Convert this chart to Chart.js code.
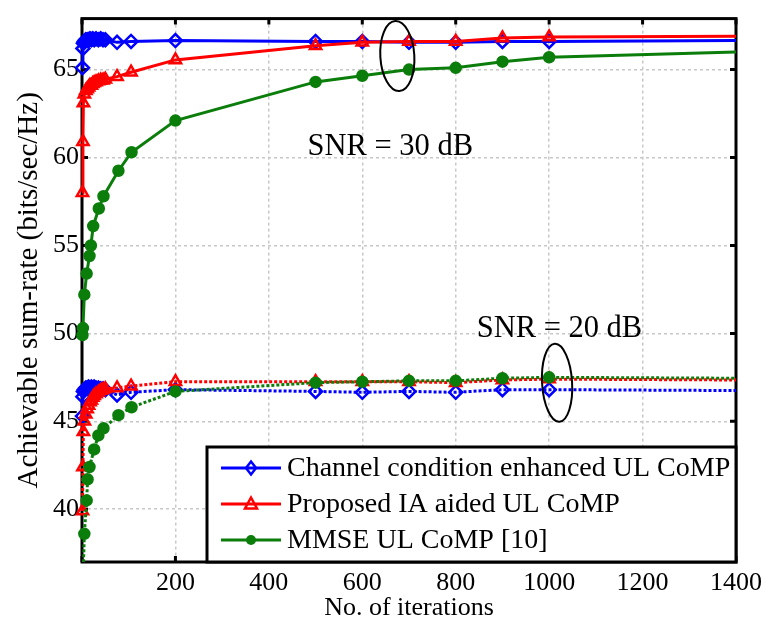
<!DOCTYPE html>
<html>
<head>
<meta charset="utf-8">
<script src="https://cdn.jsdelivr.net/npm/chart.js@4.4.0/dist/chart.umd.min.js"></script>
<style>
  html, body { margin: 0; padding: 0; background: #fff; }
  #wrap { width: 768px; height: 630px; position: relative; }
</style>
</head>
<body>
<div id="wrap"><canvas id="rateChart"></canvas></div>
<script>
// sample points (iteration index) of the curves
const itersDense = [1, 2, 3, 5, 8, 11, 14, 17, 20, 23, 26, 30, 35, 40, 45, 50, 75, 105, 200, 500, 600, 700, 800, 900, 1000, 1400];
const itersMmse30 = [1, 2, 5, 10, 16, 19, 24, 36, 46, 78, 106, 200, 500, 600, 700, 800, 900, 1000, 1400];
const itersMmse20 = [1, 5, 10, 12, 16, 26, 35, 46, 78, 106, 200, 500, 600, 700, 800, 900, 1000, 1400];

// SNR = 30 dB
const enhanced30 = [65.1, 66.2, 66.5, 66.6, 66.7, 66.7, 66.7, 66.75, 66.7, 66.75, 66.7, 66.75, 66.7, 66.75, 66.7, 66.7, 66.55, 66.6, 66.65, 66.6, 66.6, 66.55, 66.55, 66.6, 66.6, 66.65];
const proposed30 = [58.0, 60.9, 63.1, 63.6, 63.8, 63.9, 64.0, 64.1, 64.1, 64.2, 64.25, 64.3, 64.35, 64.4, 64.4, 64.45, 64.6, 64.85, 65.55, 66.35, 66.55, 66.6, 66.6, 66.8, 66.85, 66.9];
const mmse30 = [49.9, 50.3, 52.2, 53.4, 54.4, 55.0, 56.1, 57.1, 57.8, 59.25, 60.3, 62.1, 64.3, 64.65, 65.0, 65.1, 65.45, 65.7, 66.0];

// SNR = 20 dB
const enhanced20 = [45.3, 46.4, 46.7, 46.8, 46.9, 46.9, 46.95, 46.9, 46.95, 46.9, 46.95, 46.9, 46.9, 46.85, 46.85, 46.8, 46.5, 46.65, 46.8, 46.7, 46.65, 46.7, 46.65, 46.8, 46.8, 46.75];
const proposed20 = [39.9, 42.4, 44.4, 45.0, 45.4, 45.7, 45.9, 46.1, 46.2, 46.35, 46.45, 46.55, 46.65, 46.75, 46.8, 46.85, 46.9, 47.0, 47.25, 47.25, 47.25, 47.25, 47.2, 47.35, 47.4, 47.35];
const mmse20 = [35.0, 38.6, 40.5, 41.7, 42.4, 43.4, 44.2, 44.6, 45.35, 45.8, 46.7, 47.2, 47.25, 47.3, 47.3, 47.45, 47.5, 47.45];

const legendLabels = ['Channel condition enhanced UL CoMP', 'Proposed IA aided UL CoMP', 'MMSE UL CoMP [10]'];
const xTicks = [0, 200, 400, 600, 800, 1000, 1200, 1400];
const yTicks = [40, 45, 50, 55, 60, 65];

// text notes and ellipses, in data units
const notes = [
    { text: 'SNR = 30 dB', x: 660, y: 60.62 },
    { text: 'SNR = 20 dB', x: 1022, y: 50.27 }
];
const rings = [
    { x: 675, y: 65.77, rx: 17, ry: 35 },
    { x: 1017, y: 47.19, rx: 15, ry: 39 }
];

const BLUE = '#0000ff';
const RED = '#ff0000';
const GREEN = '#0b7d0b';
const SERIF = '"Liberation Serif", "Times New Roman", serif';

const toPoints = (xs, ys) => xs.map((x, i) => ({ x: x, y: ys[i] }));
const lastHidden = r => ctx => (ctx.raw && ctx.raw.x >= 1400 ? 0 : r);

function series(label, xs, ys, color, style, dashed, order) {
    const filled = style === 'circle';
    const r = style === 'circle' ? 5 : 6.5;
    return {
        label: label,
        data: toPoints(xs, ys),
        borderColor: color,
        backgroundColor: filled ? color : 'rgba(0,0,0,0)',
        borderWidth: 3,
        borderDash: dashed ? [3, 2] : [],
        pointStyle: style,
        pointRadius: lastHidden(r),
        pointBorderWidth: 2.5,
        pointBorderColor: color,
        pointBackgroundColor: filled ? color : 'rgba(0,0,0,0)',
        tension: 0,
        order: order,
        clip: { left: 10, top: 10, right: 4, bottom: 0 }
    };
}

function drawMarker(ctx, style, color, x, y) {
    ctx.save();
    ctx.strokeStyle = color;
    ctx.fillStyle = color;
    ctx.lineWidth = 2.5;
    ctx.setLineDash([]);
    ctx.beginPath();
    if (style === 'rectRot') {
        ctx.moveTo(x, y - 6.5); ctx.lineTo(x + 5, y); ctx.lineTo(x, y + 6.5); ctx.lineTo(x - 5, y); ctx.closePath();
        ctx.stroke();
    } else if (style === 'triangle') {
        ctx.moveTo(x, y - 6.5); ctx.lineTo(x + 6, y + 4.5); ctx.lineTo(x - 6, y + 4.5); ctx.closePath();
        ctx.stroke();
    } else {
        ctx.arc(x, y, 5, 0, Math.PI * 2);
        ctx.fill();
    }
    ctx.restore();
}

const decorPlugin = {
    id: 'decor',
    beforeDatasetsDraw(chart) {
        const { ctx, chartArea: a, scales } = chart;
        ctx.save();
        // inward tick marks on all four sides
        ctx.strokeStyle = '#000';
        ctx.lineWidth = 3;
        ctx.beginPath();
        xTicks.forEach(v => {
            const px = scales.x.getPixelForValue(v);
            ctx.moveTo(px, a.top); ctx.lineTo(px, a.top + 6);
            ctx.moveTo(px, a.bottom); ctx.lineTo(px, a.bottom - 6);
        });
        yTicks.forEach(v => {
            const py = scales.y.getPixelForValue(v);
            ctx.moveTo(a.left, py); ctx.lineTo(a.left + 6, py);
            ctx.moveTo(a.right, py); ctx.lineTo(a.right - 6, py);
        });
        ctx.stroke();
        ctx.strokeRect(a.left, a.top, a.right - a.left, a.bottom - a.top);
        ctx.restore();
    },
    afterDatasetsDraw(chart) {
        const { ctx, chartArea: a, scales } = chart;
        ctx.save();
        ctx.fillStyle = '#000';
        ctx.strokeStyle = '#000';
        ctx.font = '30.5px ' + SERIF;
        ctx.textAlign = 'center';
        ctx.textBaseline = 'middle';
        notes.forEach(n => {
            ctx.fillText(n.text, scales.x.getPixelForValue(n.x), scales.y.getPixelForValue(n.y));
        });
        ctx.lineWidth = 2;
        rings.forEach(r => {
            ctx.beginPath();
            ctx.ellipse(scales.x.getPixelForValue(r.x), scales.y.getPixelForValue(r.y), r.rx, r.ry, -0.06, 0, Math.PI * 2);
            ctx.stroke();
        });

        // legend box in the lower right corner
        const w = 529, h = 115;
        const left = a.right - w, top = a.bottom - h;
        ctx.fillStyle = '#fff';
        ctx.fillRect(left, top, w, h);
        ctx.lineWidth = 3;
        ctx.strokeRect(left, top, w, h);
        const styles = [['rectRot', BLUE], ['triangle', RED], ['circle', GREEN]];
        ctx.font = '28px ' + SERIF;
        ctx.textAlign = 'left';
        legendLabels.forEach((label, i) => {
            const y = top + 21 + i * 36;
            const [style, color] = styles[i];
            ctx.strokeStyle = color;
            ctx.lineWidth = 3;
            ctx.beginPath();
            ctx.moveTo(left + 14, y); ctx.lineTo(left + 74, y);
            ctx.stroke();
            drawMarker(ctx, style, color, left + 44, y);
            ctx.fillStyle = '#000';
            ctx.fillText(label, left + 80, y + 1);
        });
        ctx.restore();
    }
};

const datasets = [
    series(legendLabels[0], itersDense, enhanced30, BLUE, 'rectRot', false, 2),
    series(legendLabels[1], itersDense, proposed30, RED, 'triangle', false, 1),
    series(legendLabels[2], itersMmse30, mmse30, GREEN, 'circle', false, 0),
    series(legendLabels[0], itersDense, enhanced20, BLUE, 'rectRot', true, 2),
    series(legendLabels[1], itersDense, proposed20, RED, 'triangle', true, 1),
    series(legendLabels[2], itersMmse20, mmse20, GREEN, 'circle', true, 0)
];

new Chart(document.getElementById('rateChart'), {
    type: 'line',
    data: { datasets: datasets },
    options: {
        responsive: true,
        maintainAspectRatio: false,
        animation: false,
        layout: { padding: { top: 10, right: 31, left: 0, bottom: 0 } },
        plugins: {
            legend: { display: false },
            tooltip: { enabled: false }
        },
        scales: {
            x: {
                type: 'linear',
                min: 0,
                max: 1400,
                afterFit: scale => { scale.height = 68; },
                afterBuildTicks: scale => { scale.ticks = xTicks.map(v => ({ value: v })); },
                ticks: {
                    color: '#000',
                    padding: 6,
                    font: { family: SERIF, size: 26 },
                    maxRotation: 0,
                    callback: v => (v === 0 ? '' : v)
                },
                grid: { color: '#c8c8c8', lineWidth: 1.5, drawTicks: false },
                border: { display: false, dash: [3, 3] },
                title: {
                    display: true,
                    text: 'No. of iterations',
                    color: '#000',
                    font: { family: SERIF, size: 26, lineHeight: 1.2 },
                    padding: { top: 0, bottom: 6 }
                }
            },
            y: {
                type: 'linear',
                min: 37,
                max: 67.9,
                afterFit: scale => { scale.width = 82; },
                afterBuildTicks: scale => { scale.ticks = yTicks.map(v => ({ value: v })); },
                ticks: {
                    color: '#000',
                    padding: 3,
                    font: { family: SERIF, size: 26 }
                },
                grid: { color: '#c8c8c8', lineWidth: 1.5, drawTicks: false },
                border: { display: false, dash: [3, 3] },
                title: {
                    display: true,
                    text: 'Achievable sum-rate (bits/sec/Hz)',
                    color: '#000',
                    font: { family: SERIF, size: 29, lineHeight: 1.2 },
                    padding: { top: 12, bottom: 0 }
                }
            }
        }
    },
    plugins: [decorPlugin]
});
</script>
</body>
</html>
